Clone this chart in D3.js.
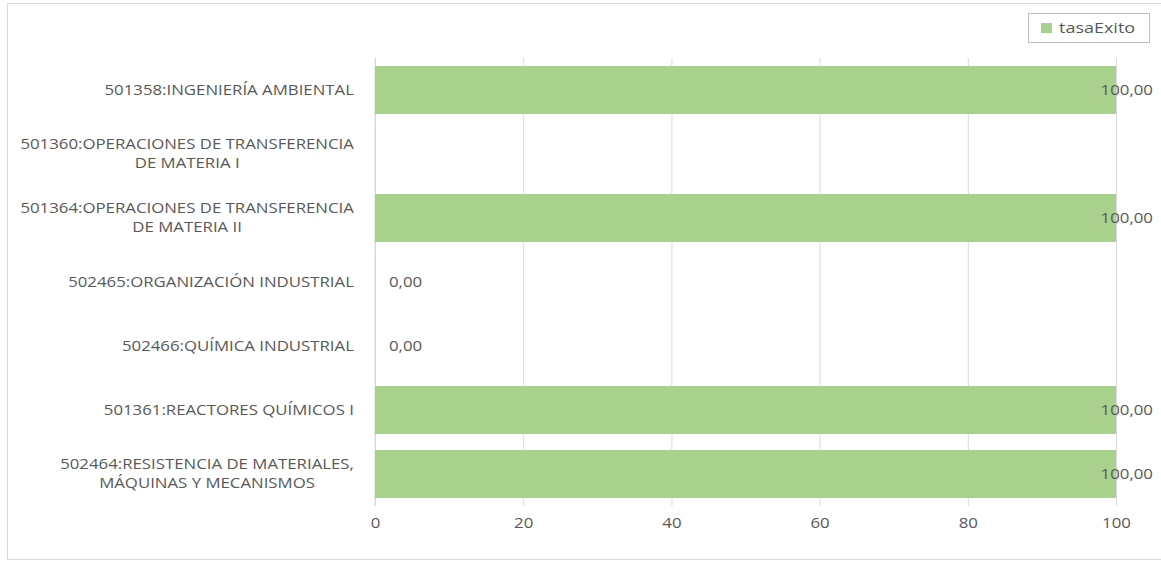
<!DOCTYPE html>
<html><head><meta charset="utf-8">
<script src="https://cdn.jsdelivr.net/npm/d3@7"></script>
<style>body{margin:0;background:#fff}svg{display:block}text{font-family:"Open Sans",sans-serif}</style>
</head><body>
<svg id="c" width="1161" height="562"></svg>
<script>
const categories = [
  "501358:INGENIERÍA AMBIENTAL",
  "501360:OPERACIONES DE TRANSFERENCIA|DE MATERIA I",
  "501364:OPERACIONES DE TRANSFERENCIA|DE MATERIA II",
  "502465:ORGANIZACIÓN INDUSTRIAL",
  "502466:QUÍMICA INDUSTRIAL",
  "501361:REACTORES QUÍMICOS I",
  "502464:RESISTENCIA DE MATERIALES,|MÁQUINAS Y MECANISMOS"
];
const tasaExito = [100, null, 100, 0, 0, 100, 100];
const xTicks = [0, 20, 40, 60, 80, 100];
const seriesName = "tasaExito";

const svg = d3.select("#c");
const green = "#a9d18e", grey = "#595959", grid = "#d9d9d9";
const FS = 15, K = 1.12;
const CFS = 14, CK = 1.2, LINE = 19;

svg.append("rect").attr("x", 7.5).attr("y", 3.5).attr("width", 1170).attr("height", 556)
  .attr("fill", "#fff").attr("stroke", "#d9d9d9");

const x = d3.scaleLinear().domain([0, 100]).range([375, 1116]);
const y = d3.scaleBand().domain(categories).range([58, 506]).paddingInner(0.25).paddingOuter(0.125);

const xAxis = svg.append("g").attr("transform", "translate(0,506)")
  .call(d3.axisBottom(x).tickValues(xTicks).tickSize(-448).tickPadding(11));
xAxis.select(".domain").remove();
xAxis.selectAll("line").attr("stroke", grid);
xAxis.selectAll("text").attr("fill", grey).attr("font-size", FS).attr("font-family", "Open Sans")
  .attr("transform", `scale(${K},1)`);

svg.append("line").attr("x1", 375).attr("x2", 375).attr("y1", 58).attr("y2", 506).attr("stroke", grid);

const data = categories.map((c, i) => ({c, v: tasaExito[i]}));

svg.append("g").selectAll("rect").data(data.filter(d => d.v !== null && d.v > 0)).join("rect")
  .attr("x", x(0)).attr("y", d => y(d.c)).attr("width", d => x(d.v) - x(0)).attr("height", y.bandwidth())
  .attr("fill", green);

// category labels (each line its own text, lines centred on each other, block right-aligned)
const yl = svg.append("g");
data.forEach(d => {
  const lines = d.c.split("|");
  const cy = y(d.c) + y.bandwidth() / 2;
  const g = yl.append("g");
  let maxW = 0;
  lines.forEach((l, j) => {
    const t = g.append("text").attr("fill", grey).attr("font-size", CFS).attr("text-anchor", "middle")
      .attr("x", 0).attr("y", cy + (j - (lines.length - 1) / 2) * LINE).attr("dy", "0.35em").text(l);
    maxW = Math.max(maxW, t.node().getComputedTextLength());
  });
  const w = maxW * CK;
  g.attr("transform", `translate(${354 - w / 2},0) scale(${CK},1)`);
});

// value labels
svg.append("g").selectAll("g").data(data.filter(d => d.v !== null)).join("g")
  .each(function(d) {
    const g = d3.select(this);
    const t = g.append("text").attr("fill", grey).attr("font-size", FS)
      .attr("y", y(d.c) + y.bandwidth() / 2).attr("dy", "0.35em")
      .text(d3.format(".2f")(d.v).replace(".", ","));
    const w = t.node().getComputedTextLength() * K;
    const lx = Math.min(x(d.v) + 14, 1153 - w);
    g.attr("transform", `translate(${lx},0) scale(${K},1)`);
  });

// legend
const lg = svg.append("g");
lg.append("rect").attr("x", 1028.5).attr("y", 13.5).attr("width", 121).attr("height", 29).attr("fill", "#fff").attr("stroke", "#bfbfbf");
lg.append("rect").attr("x", 1041).attr("y", 23).attr("width", 11).attr("height", 10).attr("fill", green);
lg.append("g").attr("transform", "translate(1059,0) scale(1.2,1)")
  .append("text").attr("x", 0).attr("y", 28).attr("dy", "0.35em").attr("fill", grey).attr("font-size", FS).text(seriesName);
</script>
</body></html>
